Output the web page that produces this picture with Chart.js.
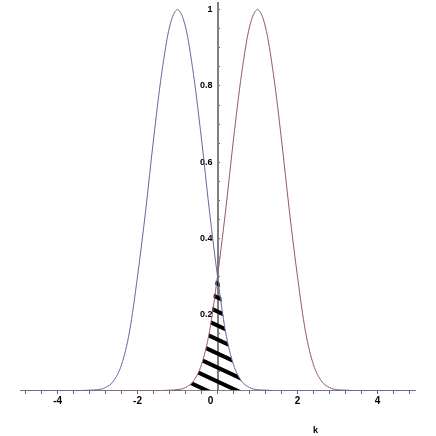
<!DOCTYPE html>
<html>
<head>
<meta charset="utf-8">
<script src="https://cdn.jsdelivr.net/npm/chart.js@4"></script>
<style>
  html, body { margin: 0; padding: 0; background: #fff; }
  #wrap { width: 436px; height: 436px; }
</style>
</head>
<body>
<div id="wrap"><canvas id="plot"></canvas></div>
<script>
// k values sampled every 0.2
const ks = [-5, -4.8, -4.6, -4.4, -4.2, -4, -3.8, -3.6, -3.4, -3.2, -3, -2.8, -2.6, -2.4, -2.2, -2,
    -1.8, -1.6, -1.4, -1.2, -1, -0.8, -0.6, -0.4, -0.2, 0, 0.2, 0.4, 0.6, 0.8, 1, 1.2, 1.4, 1.6,
    1.8, 2, 2.2, 2.4, 2.6, 2.8, 3, 3.2, 3.4, 3.6, 3.8, 4, 4.2, 4.4, 4.6, 4.8, 5];

// left bump (peak at k = -1)
const leftCurve = [0, 0, 0, 0, 0, 0, 0, 0, 0, 0.001, 0.002, 0.008, 0.025, 0.068, 0.155, 0.30,
    0.47, 0.66, 0.83, 0.955, 1, 0.955, 0.83, 0.66, 0.47, 0.30, 0.155, 0.068, 0.025, 0.008, 0.002,
    0.001, 0, 0, 0, 0, 0, 0, 0, 0, 0, 0, 0, 0, 0, 0, 0, 0, 0, 0, 0];

// right bump (peak at k = 1)
const rightCurve = [0, 0, 0, 0, 0, 0, 0, 0, 0, 0, 0, 0, 0, 0, 0, 0, 0, 0, 0, 0.001, 0.002, 0.008,
    0.025, 0.068, 0.155, 0.30, 0.47, 0.66, 0.83, 0.955, 1, 0.955, 0.83, 0.66, 0.47, 0.30, 0.155,
    0.068, 0.025, 0.008, 0.002, 0.001, 0, 0, 0, 0, 0, 0, 0, 0, 0];

const xMajor = [-4, -2, 0, 2, 4];
const yMajor = [0.2, 0.4, 0.6, 0.8, 1];

// overlap region (under both curves) gets the hatch
const overlap = ks.map((k, i) => ({ x: k, y: Math.min(leftCurve[i], rightCurve[i]) }));

function hatchPattern() {
    const c = document.createElement('canvas');
    c.width = 30;
    c.height = 14;
    const g = c.getContext('2d');
    g.strokeStyle = '#000';
    g.lineWidth = 4;
    for (const off of [-14, 0, 14]) {
        g.beginPath();
        g.moveTo(-6, off - 2.8);
        g.lineTo(36, off + 16.8);
        g.stroke();
    }
    return g.createPattern(c, 'repeat');
}

// axis label "k" sits right of centre, below the tick labels
const kLabel = {
    id: 'kLabel',
    afterDraw(chart) {
        const ctx = chart.ctx;
        ctx.save();
        ctx.font = 'bold 9px "Liberation Sans"';
        ctx.fillStyle = '#000';
        ctx.textAlign = 'center';
        ctx.textBaseline = 'alphabetic';
        ctx.fillText('k', chart.scales.x.getPixelForValue(2.45), 433);
        ctx.restore();
    }
};

Chart.defaults.font.family = '"Liberation Sans", sans-serif';

new Chart(document.getElementById('plot'), {
    type: 'line',
    data: {
        datasets: [
            {
                data: ks.map((k, i) => ({ x: k, y: leftCurve[i] })),
                borderColor: 'rgb(95, 105, 160)',
                borderWidth: 1,
                pointRadius: 0,
                cubicInterpolationMode: 'monotone',
                order: 0
            },
            {
                data: ks.map((k, i) => ({ x: k, y: rightCurve[i] })),
                borderColor: 'rgb(150, 85, 110)',
                borderWidth: 1,
                pointRadius: 0,
                cubicInterpolationMode: 'monotone',
                order: 0
            },
            {
                data: overlap,
                borderWidth: 0,
                borderColor: 'rgba(0,0,0,0)',
                pointRadius: 0,
                cubicInterpolationMode: 'monotone',
                fill: 'origin',
                backgroundColor: hatchPattern(),
                order: 1
            }
        ]
    },
    options: {
        responsive: true,
        maintainAspectRatio: false,
        animation: false,
        layout: {
            padding: { left: 20, right: 21, top: 3, bottom: 45.5 }
        },
        scales: {
            x: {
                type: 'linear',
                min: -4.94,
                max: 4.94,
                position: { y: 0 },
                afterBuildTicks: axis => {
                    const t = [];
                    for (let i = -12; i <= 12; i++) t.push({ value: +(i * 0.4).toFixed(1) });
                    axis.ticks = t;
                },
                border: { color: 'rgb(130, 130, 150)', width: 1 },
                grid: { drawOnChartArea: false, tickLength: 3, color: 'rgb(100, 100, 100)' },
                ticks: {
                    autoSkip: false,
                    maxRotation: 0,
                    padding: 2,
                    color: '#000',
                    font: { size: 10, weight: 'bold' },
                    // the 0 label is nudged left of the vertical axis
                    callback: v => xMajor.includes(v) ? (v === 0 ? '0     ' : String(v)) : ''
                }
            },
            y: {
                type: 'linear',
                min: 0,
                max: 1.018,
                position: { x: 0 },
                afterBuildTicks: axis => {
                    const t = [];
                    for (let i = 0; i <= 20; i++) t.push({ value: +(i * 0.05).toFixed(2) });
                    axis.ticks = t;
                },
                border: { color: 'rgb(128, 128, 128)', width: 2 },
                grid: { drawOnChartArea: false, tickLength: -3, color: 'rgb(100, 100, 100)' },
                ticks: {
                    autoSkip: false,
                    padding: 0,
                    color: '#000',
                    font: { size: 9, weight: 'bold', lineHeight: 0.6 },
                    callback: v => yMajor.includes(v) ? (v === 1 ? '1' : v.toFixed(1)) + '  ' : ''
                }
            }
        },
        plugins: {
            legend: { display: false },
            tooltip: { enabled: false }
        }
    },
    plugins: [kLabel]
});
</script>
</body>
</html>
